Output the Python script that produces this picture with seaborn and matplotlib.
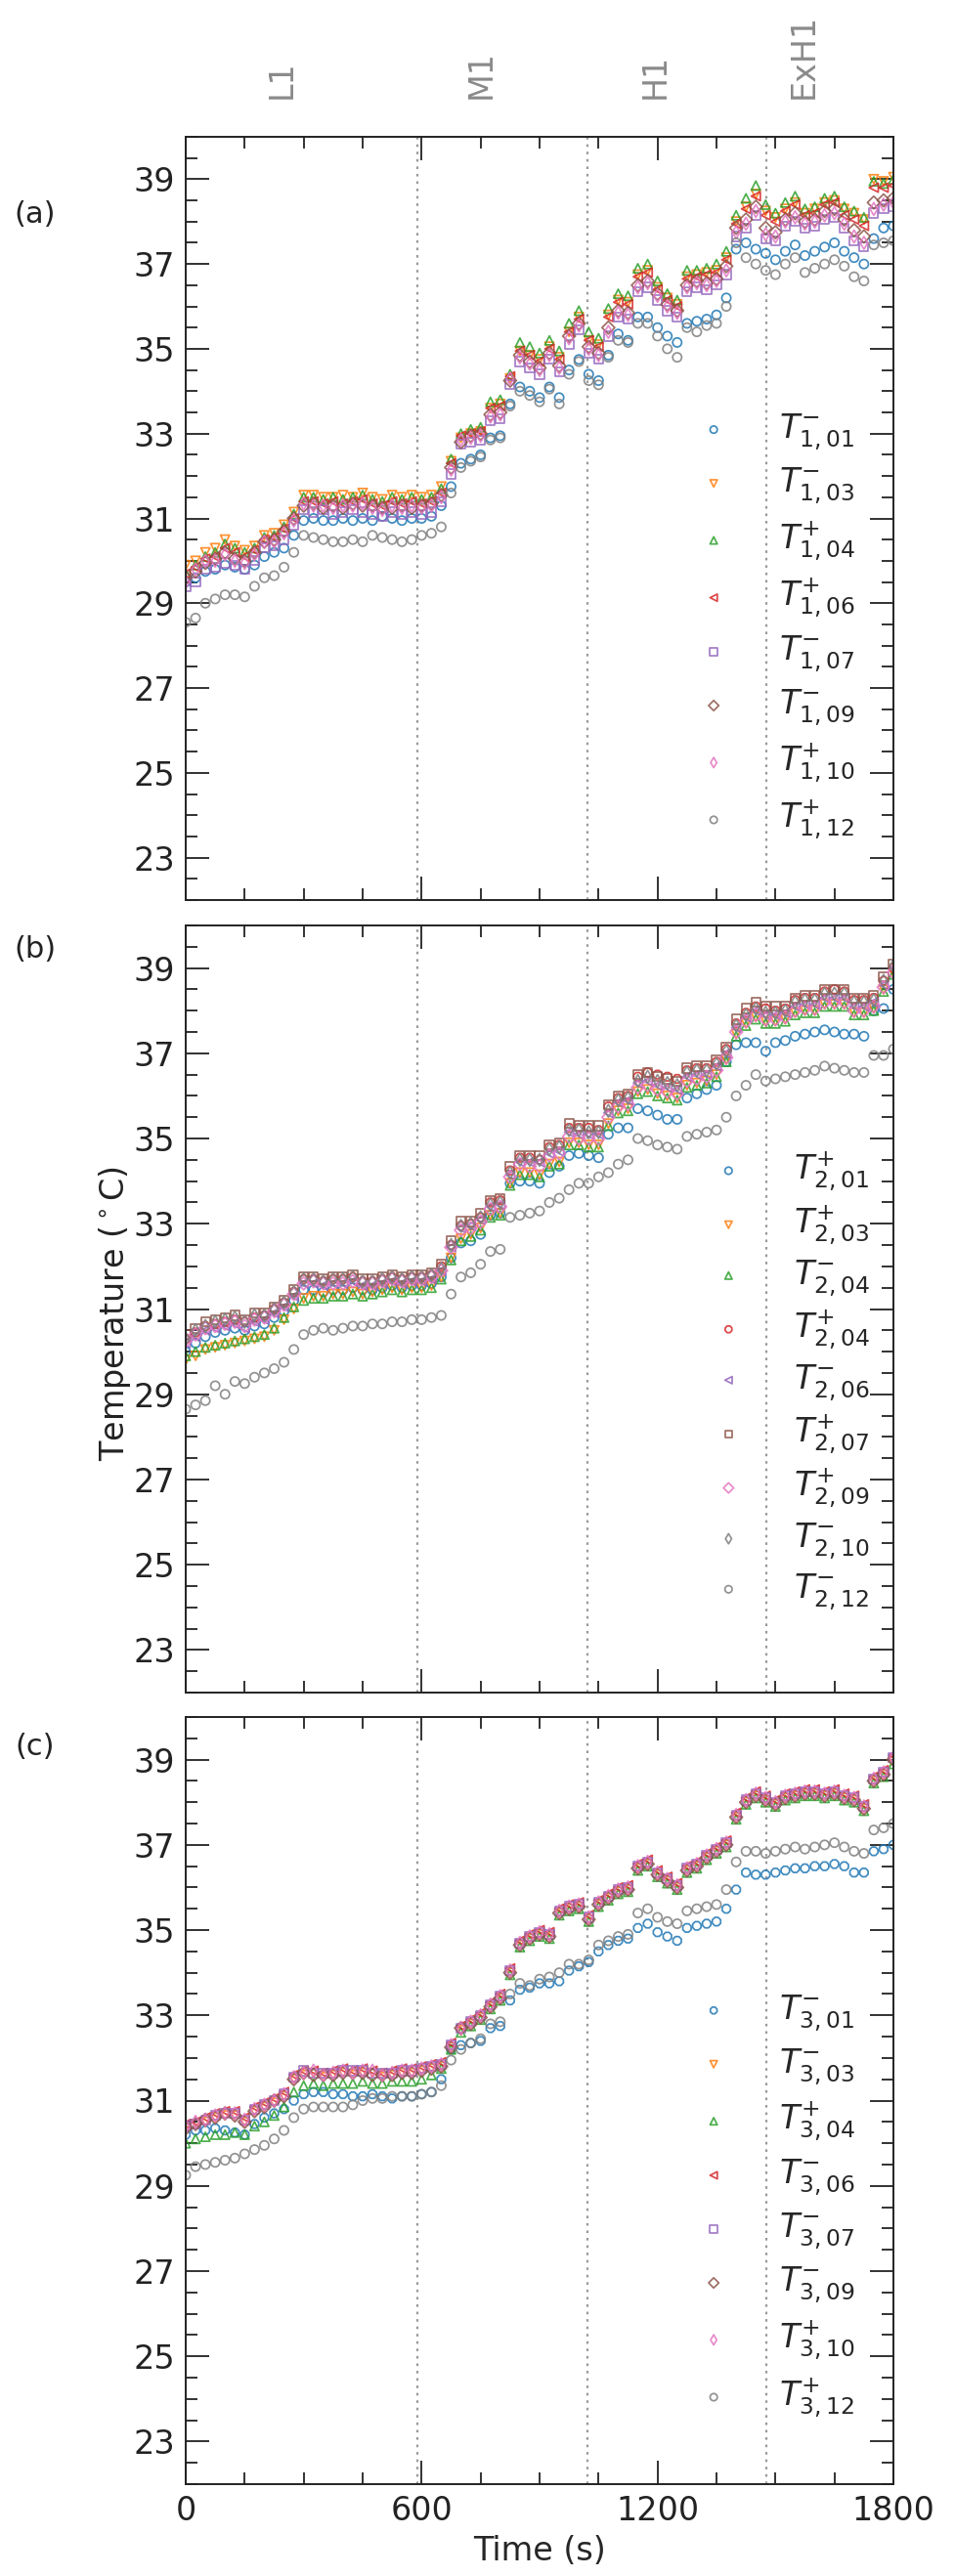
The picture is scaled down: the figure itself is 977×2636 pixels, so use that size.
import numpy as np
import pandas as pd
import matplotlib
matplotlib.use("Agg")
import matplotlib.pyplot as plt
import matplotlib.transforms as mtransforms
from matplotlib.ticker import MultipleLocator
import seaborn as sns

# ---------------- data ----------------
time_s = list(range(0, 1801, 25))

# panel (a)
a_T1_01 = [29.5, 29.6, 29.75, 29.8, 29.9, 29.85, 29.8, 29.9,
           30.1, 30.2, 30.3, 30.6, 30.95, 31.0, 30.95, 30.95,
           31.0, 30.95, 31.0, 30.95, 31.05, 31.0, 30.95, 31.0,
           31.0, 31.05, 31.3, 31.75, 32.3, 32.4, 32.5, 32.9,
           32.95, 33.7, 34.1, 34.0, 33.85, 34.1, 33.85, 34.5,
           34.75, 34.4, 34.25, 34.85, 35.35, 35.2, 35.75, 35.75,
           35.5, 35.3, 35.15, 35.6, 35.65, 35.7, 35.8, 36.2,
           37.35, 37.5, 37.35, 37.25, 37.1, 37.3, 37.45, 37.2,
           37.3, 37.4, 37.5, 37.3, 37.15, 37.0, 37.6, 37.85, 37.9]
a_T1_03 = [29.9, 30.0, 30.2, 30.3, 30.5, 30.35, 30.25, 30.35,
           30.6, 30.65, 30.85, 31.15, 31.55, 31.55, 31.5, 31.5,
           31.55, 31.5, 31.6, 31.5, 31.45, 31.55, 31.5, 31.55,
           31.5, 31.55, 31.75, 32.35, 32.9, 33.0, 33.05, 33.6,
           33.7, 34.3, 34.95, 34.85, 34.75, 35.05, 34.8, 35.4,
           35.75, 35.2, 35.1, 35.8, 36.15, 36.1, 36.75, 36.85,
           36.45, 36.2, 36.05, 36.7, 36.75, 36.8, 36.85, 37.15,
           38.0, 38.35, 38.65, 38.25, 38.1, 38.3, 38.45, 38.2,
           38.3, 38.45, 38.5, 38.3, 38.2, 38.05, 39.0, 38.95, 39.05]
a_T1_04 = [29.7, 29.9, 30.1, 30.2, 30.4, 30.3, 30.2, 30.3,
           30.55, 30.6, 30.8, 31.1, 31.5, 31.5, 31.45, 31.5,
           31.45, 31.5, 31.55, 31.45, 31.4, 31.5, 31.45, 31.5,
           31.45, 31.5, 31.7, 32.4, 33.0, 33.1, 33.15, 33.75,
           33.8, 34.4, 35.15, 35.05, 34.9, 35.2, 34.95, 35.6,
           35.9, 35.4, 35.25, 35.95, 36.3, 36.25, 36.9, 37.0,
           36.6, 36.3, 36.15, 36.85, 36.85, 36.9, 37.0, 37.3,
           38.15, 38.55, 38.85, 38.4, 38.2, 38.45, 38.6, 38.3,
           38.35, 38.55, 38.6, 38.35, 38.25, 38.1, 38.95, 38.9, 39.0]
a_T1_06 = [29.7, 29.85, 30.05, 30.1, 30.3, 30.2, 30.1, 30.25,
           30.5, 30.55, 30.75, 31.0, 31.4, 31.4, 31.35, 31.4,
           31.35, 31.4, 31.45, 31.35, 31.3, 31.4, 31.35, 31.4,
           31.35, 31.4, 31.6, 32.3, 32.95, 33.0, 33.05, 33.6,
           33.65, 34.35, 34.95, 34.85, 34.7, 35.0, 34.75, 35.4,
           35.7, 35.2, 35.05, 35.75, 36.1, 36.05, 36.7, 36.8,
           36.4, 36.15, 36.0, 36.65, 36.7, 36.75, 36.8, 37.1,
           37.95, 38.3, 38.6, 38.15, 38.0, 38.25, 38.4, 38.15,
           38.2, 38.4, 38.45, 38.15, 38.05, 37.9, 38.8, 38.8, 38.85]
a_T1_07 = [29.4, 29.5, 29.8, 29.85, 29.95, 29.9, 29.8, 30.0,
           30.3, 30.35, 30.5, 30.85, 31.2, 31.15, 31.2, 31.1,
           31.15, 31.2, 31.15, 31.1, 31.05, 31.15, 31.1, 31.15,
           31.1, 31.15, 31.4, 32.05, 32.75, 32.8, 32.85, 33.3,
           33.35, 34.15, 34.7, 34.55, 34.4, 34.75, 34.45, 35.1,
           35.45, 34.9, 34.75, 35.3, 35.75, 35.7, 36.35, 36.45,
           36.15, 35.9, 35.75, 36.35, 36.45, 36.4, 36.5, 36.75,
           37.65, 37.85, 38.15, 37.6, 37.55, 37.9, 38.0, 37.85,
           37.9, 38.05, 38.1, 37.85, 37.55, 37.4, 38.2, 38.3, 38.35]
a_T1_09 = [29.6, 29.75, 29.95, 30.05, 30.2, 30.05, 30.0, 30.2,
           30.45, 30.5, 30.7, 31.0, 31.3, 31.35, 31.25, 31.3,
           31.25, 31.35, 31.3, 31.3, 31.25, 31.25, 31.3, 31.25,
           31.3, 31.35, 31.55, 32.2, 32.8, 32.95, 33.0, 33.45,
           33.5, 34.25, 34.85, 34.7, 34.55, 34.9, 34.6, 35.3,
           35.6, 35.05, 34.9, 35.5, 35.9, 35.85, 36.5, 36.6,
           36.3, 36.05, 35.9, 36.5, 36.6, 36.55, 36.65, 36.95,
           37.85, 38.05, 38.35, 37.85, 37.75, 38.05, 38.2, 38.0,
           38.05, 38.25, 38.3, 38.05, 37.8, 37.65, 38.45, 38.5, 38.55]
a_T1_10 = [29.5, 29.8, 30.0, 30.0, 30.15, 30.0, 29.95, 30.15,
           30.45, 30.45, 30.65, 30.95, 31.35, 31.3, 31.3, 31.25,
           31.3, 31.3, 31.35, 31.25, 31.2, 31.3, 31.25, 31.3,
           31.25, 31.3, 31.5, 32.15, 32.85, 32.9, 32.95, 33.4,
           33.45, 34.3, 34.8, 34.65, 34.5, 34.85, 34.55, 35.25,
           35.55, 35.0, 34.85, 35.4, 35.85, 35.8, 36.45, 36.55,
           36.25, 36.0, 35.85, 36.45, 36.55, 36.5, 36.6, 36.85,
           37.75, 37.95, 38.25, 37.7, 37.65, 38.0, 38.1, 37.95,
           38.0, 38.15, 38.2, 37.95, 37.65, 37.5, 38.3, 38.4, 38.45]
a_T1_12 = [28.55, 28.65, 29.0, 29.1, 29.2, 29.2, 29.15, 29.4,
           29.6, 29.65, 29.85, 30.2, 30.6, 30.55, 30.5, 30.45,
           30.45, 30.5, 30.45, 30.6, 30.55, 30.5, 30.45, 30.5,
           30.6, 30.65, 30.8, 31.6, 32.2, 32.35, 32.45, 32.85,
           32.9, 33.65, 34.0, 33.9, 33.75, 34.05, 33.7, 34.4,
           34.7, 34.25, 34.15, 34.8, 35.2, 35.15, 35.6, 35.6,
           35.3, 35.0, 34.8, 35.5, 35.4, 35.55, 35.6, 36.0,
           37.5, 37.15, 37.0, 36.85, 36.75, 37.0, 37.15, 36.8,
           36.9, 37.0, 37.1, 36.95, 36.7, 36.6, 37.45, 37.5, 37.55]

# panel (b)
b_T2_01p = [30.0, 30.2, 30.35, 30.45, 30.5, 30.55, 30.5, 30.6,
            30.65, 30.8, 30.95, 31.2, 31.45, 31.45, 31.4, 31.45,
            31.45, 31.5, 31.45, 31.45, 31.5, 31.55, 31.5, 31.55,
            31.55, 31.6, 31.75, 32.2, 32.55, 32.6, 32.75, 33.2,
            33.25, 33.95, 34.0, 34.0, 33.95, 34.2, 34.35, 34.6,
            34.65, 34.6, 34.55, 35.1, 35.25, 35.25, 35.7, 35.65,
            35.55, 35.45, 35.45, 35.95, 36.05, 36.15, 36.25, 36.8,
            37.2, 37.25, 37.25, 37.05, 37.25, 37.3, 37.4, 37.45,
            37.5, 37.55, 37.5, 37.45, 37.45, 37.4, 38.0, 38.05, 38.5]
b_T2_03p = [29.8, 29.9, 30.05, 30.1, 30.15, 30.2, 30.25, 30.3,
            30.35, 30.5, 30.75, 31.0, 31.25, 31.3, 31.3, 31.35,
            31.35, 31.4, 31.35, 31.4, 31.45, 31.5, 31.45, 31.5,
            31.5, 31.55, 31.75, 32.2, 32.65, 32.75, 32.9, 33.2,
            33.25, 33.95, 34.2, 34.2, 34.15, 34.4, 34.45, 34.9,
            34.9, 34.85, 34.85, 35.35, 35.65, 35.7, 36.1, 36.15,
            36.05, 36.0, 35.95, 36.25, 36.3, 36.35, 36.5, 36.85,
            37.45, 37.7, 37.85, 37.75, 37.75, 37.8, 37.95, 38.0,
            38.0, 38.15, 38.15, 38.15, 37.95, 37.95, 38.05, 38.5, 38.9]
b_T2_04m = [29.9, 30.0, 30.1, 30.15, 30.2, 30.25, 30.3, 30.35,
            30.4, 30.55, 30.8, 31.05, 31.2, 31.25, 31.25, 31.3,
            31.3, 31.35, 31.3, 31.35, 31.4, 31.45, 31.4, 31.45,
            31.45, 31.5, 31.7, 32.15, 32.6, 32.7, 32.85, 33.15,
            33.2, 33.9, 34.15, 34.15, 34.1, 34.35, 34.4, 34.85,
            34.85, 34.8, 34.8, 35.3, 35.6, 35.65, 36.05, 36.1,
            36.0, 35.95, 35.9, 36.2, 36.25, 36.3, 36.45, 36.8,
            37.4, 37.65, 37.8, 37.7, 37.7, 37.75, 37.9, 37.95,
            37.95, 38.1, 38.1, 38.1, 37.9, 37.9, 38.0, 38.45, 38.85]
b_T2_04p = [30.3, 30.45, 30.6, 30.65, 30.7, 30.75, 30.7, 30.8,
            30.85, 31.0, 31.15, 31.4, 31.7, 31.7, 31.65, 31.7,
            31.7, 31.75, 31.65, 31.65, 31.7, 31.75, 31.7, 31.75,
            31.75, 31.8, 32.0, 32.5, 32.95, 33.0, 33.15, 33.5,
            33.55, 34.25, 34.55, 34.55, 34.5, 34.8, 34.85, 35.25,
            35.25, 35.25, 35.2, 35.75, 35.95, 36.0, 36.45, 36.55,
            36.5, 36.45, 36.4, 36.6, 36.65, 36.65, 36.8, 37.1,
            37.7, 37.95, 38.1, 38.05, 38.0, 38.05, 38.25, 38.3,
            38.3, 38.45, 38.5, 38.45, 38.25, 38.25, 38.3, 38.7, 39.0]
b_T2_06m = [30.2, 30.35, 30.5, 30.55, 30.6, 30.65, 30.55, 30.7,
            30.75, 30.9, 31.05, 31.3, 31.6, 31.6, 31.55, 31.6,
            31.6, 31.65, 31.55, 31.55, 31.6, 31.65, 31.6, 31.65,
            31.65, 31.7, 31.9, 32.45, 32.9, 32.95, 33.1, 33.4,
            33.45, 34.15, 34.45, 34.45, 34.45, 34.65, 34.7, 35.15,
            35.1, 35.1, 35.1, 35.6, 35.85, 35.9, 36.3, 36.35,
            36.25, 36.2, 36.15, 36.45, 36.5, 36.5, 36.7, 37.0,
            37.6, 37.85, 38.0, 37.9, 37.9, 37.95, 38.1, 38.15,
            38.15, 38.3, 38.3, 38.3, 38.1, 38.1, 38.2, 38.6, 39.0]
b_T2_07p = [30.4, 30.55, 30.7, 30.75, 30.8, 30.85, 30.75, 30.9,
            30.9, 31.05, 31.2, 31.45, 31.75, 31.75, 31.7, 31.75,
            31.75, 31.8, 31.7, 31.7, 31.75, 31.8, 31.75, 31.8,
            31.8, 31.85, 32.05, 32.6, 33.05, 33.05, 33.25, 33.55,
            33.6, 34.35, 34.6, 34.6, 34.6, 34.85, 34.9, 35.35,
            35.3, 35.3, 35.3, 35.8, 36.0, 36.05, 36.5, 36.55,
            36.45, 36.4, 36.35, 36.65, 36.7, 36.7, 36.85, 37.15,
            37.8, 38.05, 38.2, 38.1, 38.1, 38.1, 38.3, 38.35,
            38.35, 38.5, 38.5, 38.5, 38.3, 38.3, 38.35, 38.8, 39.1]
b_T2_09p = [30.25, 30.4, 30.55, 30.6, 30.65, 30.7, 30.6, 30.75,
            30.8, 30.95, 31.1, 31.35, 31.6, 31.65, 31.6, 31.6,
            31.6, 31.65, 31.6, 31.6, 31.65, 31.7, 31.65, 31.7,
            31.7, 31.75, 31.9, 32.45, 32.85, 32.9, 33.05, 33.35,
            33.4, 34.1, 34.4, 34.35, 34.35, 34.6, 34.65, 35.05,
            35.0, 35.0, 35.0, 35.5, 35.75, 35.8, 36.2, 36.25,
            36.15, 36.1, 36.05, 36.35, 36.4, 36.45, 36.6, 36.9,
            37.5, 37.75, 37.9, 37.8, 37.8, 37.85, 38.0, 38.05,
            38.05, 38.2, 38.2, 38.2, 38.0, 38.0, 38.1, 38.55, 38.9]
b_T2_10m = [30.3, 30.5, 30.6, 30.7, 30.75, 30.8, 30.7, 30.85,
            30.85, 31.0, 31.15, 31.4, 31.7, 31.7, 31.65, 31.7,
            31.7, 31.75, 31.65, 31.65, 31.7, 31.75, 31.7, 31.75,
            31.75, 31.8, 31.95, 32.5, 32.95, 33.0, 33.15, 33.45,
            33.5, 34.2, 34.5, 34.5, 34.5, 34.75, 34.8, 35.2,
            35.2, 35.15, 35.15, 35.65, 35.9, 35.95, 36.35, 36.45,
            36.35, 36.3, 36.25, 36.55, 36.6, 36.6, 36.75, 37.05,
            37.65, 37.9, 38.05, 37.95, 37.95, 38.0, 38.2, 38.25,
            38.25, 38.4, 38.4, 38.4, 38.2, 38.2, 38.25, 38.7, 39.05]
b_T2_12m = [28.65, 28.75, 28.85, 29.2, 29.0, 29.3, 29.25, 29.4,
            29.5, 29.6, 29.75, 30.05, 30.4, 30.5, 30.55, 30.5,
            30.55, 30.6, 30.6, 30.65, 30.65, 30.7, 30.7, 30.75,
            30.75, 30.8, 30.85, 31.35, 31.75, 31.85, 32.05, 32.35,
            32.4, 33.15, 33.2, 33.25, 33.3, 33.5, 33.6, 33.8,
            33.95, 33.95, 34.1, 34.2, 34.4, 34.5, 35.0, 34.95,
            34.85, 34.8, 34.75, 35.05, 35.1, 35.15, 35.2, 35.5,
            36.0, 36.25, 36.5, 36.35, 36.4, 36.45, 36.5, 36.55,
            36.6, 36.7, 36.65, 36.6, 36.55, 36.55, 36.95, 36.95, 37.1]

# panel (c)
c_T3_01 = [30.2, 30.3, 30.3, 30.35, 30.3, 30.25, 30.2, 30.45,
           30.6, 30.7, 30.8, 31.0, 31.15, 31.2, 31.2, 31.15,
           31.15, 31.1, 31.1, 31.15, 31.1, 31.05, 31.1, 31.1,
           31.15, 31.2, 31.5, 32.2, 32.3, 32.35, 32.4, 32.7,
           32.75, 33.35, 33.6, 33.65, 33.75, 33.75, 33.8, 34.05,
           34.15, 34.25, 34.5, 34.65, 34.75, 34.8, 35.05, 35.15,
           34.95, 34.85, 34.75, 35.05, 35.1, 35.15, 35.2, 35.5,
           35.95, 36.35, 36.3, 36.3, 36.35, 36.4, 36.45, 36.45,
           36.5, 36.5, 36.55, 36.5, 36.35, 36.35, 36.85, 36.9, 37.0]
c_T3_03 = [30.35, 30.45, 30.5, 30.6, 30.65, 30.65, 30.5, 30.75,
           30.85, 30.95, 31.1, 31.5, 31.6, 31.65, 31.55, 31.6,
           31.65, 31.6, 31.65, 31.65, 31.55, 31.6, 31.65, 31.65,
           31.7, 31.75, 31.8, 32.25, 32.65, 32.8, 32.95, 33.2,
           33.4, 34.0, 34.65, 34.8, 34.9, 34.85, 35.4, 35.5,
           35.55, 35.25, 35.6, 35.75, 35.9, 35.95, 36.45, 36.55,
           36.3, 36.15, 36.0, 36.4, 36.5, 36.7, 36.85, 37.0,
           37.65, 38.0, 38.15, 38.05, 37.95, 38.1, 38.15, 38.2,
           38.2, 38.15, 38.2, 38.1, 38.05, 37.85, 38.5, 38.65, 38.95]
c_T3_04 = [30.0, 30.1, 30.15, 30.2, 30.2, 30.25, 30.2, 30.4,
           30.5, 30.65, 30.85, 31.2, 31.35, 31.4, 31.35, 31.4,
           31.4, 31.4, 31.45, 31.4, 31.4, 31.45, 31.45, 31.45,
           31.5, 31.6, 31.75, 32.2, 32.6, 32.75, 32.9, 33.15,
           33.35, 33.95, 34.6, 34.75, 34.85, 34.8, 35.35, 35.45,
           35.5, 35.2, 35.55, 35.7, 35.85, 35.9, 36.4, 36.5,
           36.25, 36.1, 35.95, 36.35, 36.45, 36.65, 36.8, 36.95,
           37.6, 37.95, 38.1, 38.0, 37.9, 38.05, 38.1, 38.15,
           38.15, 38.1, 38.15, 38.05, 38.0, 37.8, 38.45, 38.6, 38.9]
c_T3_06 = [30.45, 30.5, 30.6, 30.7, 30.75, 30.75, 30.6, 30.85,
           30.95, 31.05, 31.2, 31.6, 31.7, 31.7, 31.65, 31.7,
           31.75, 31.7, 31.75, 31.7, 31.65, 31.7, 31.75, 31.75,
           31.8, 31.85, 31.9, 32.35, 32.75, 32.9, 33.05, 33.3,
           33.5, 34.1, 34.75, 34.9, 35.0, 34.95, 35.5, 35.6,
           35.65, 35.35, 35.7, 35.85, 36.0, 36.05, 36.55, 36.65,
           36.4, 36.25, 36.1, 36.5, 36.6, 36.8, 36.95, 37.1,
           37.75, 38.1, 38.25, 38.15, 38.05, 38.2, 38.25, 38.3,
           38.3, 38.25, 38.3, 38.2, 38.15, 37.95, 38.6, 38.75, 39.1]
c_T3_07 = [30.4, 30.45, 30.55, 30.65, 30.7, 30.7, 30.55, 30.8,
           30.9, 31.0, 31.15, 31.55, 31.7, 31.65, 31.65, 31.65,
           31.7, 31.7, 31.7, 31.65, 31.65, 31.65, 31.7, 31.7,
           31.75, 31.8, 31.85, 32.3, 32.7, 32.85, 33.0, 33.25,
           33.45, 34.05, 34.7, 34.85, 34.95, 34.9, 35.45, 35.55,
           35.6, 35.3, 35.65, 35.8, 35.95, 36.0, 36.5, 36.6,
           36.35, 36.2, 36.05, 36.45, 36.55, 36.75, 36.9, 37.05,
           37.7, 38.05, 38.2, 38.1, 38.0, 38.15, 38.2, 38.25,
           38.25, 38.2, 38.25, 38.15, 38.1, 37.9, 38.55, 38.7, 39.05]
c_T3_09 = [30.35, 30.45, 30.55, 30.6, 30.7, 30.65, 30.5, 30.75,
           30.85, 31.0, 31.1, 31.5, 31.65, 31.6, 31.6, 31.6,
           31.65, 31.65, 31.65, 31.6, 31.6, 31.6, 31.65, 31.65,
           31.7, 31.75, 31.8, 32.25, 32.7, 32.8, 32.95, 33.2,
           33.4, 34.0, 34.65, 34.8, 34.9, 34.85, 35.4, 35.5,
           35.55, 35.25, 35.6, 35.75, 35.9, 35.95, 36.45, 36.55,
           36.3, 36.15, 36.0, 36.4, 36.5, 36.7, 36.85, 37.0,
           37.65, 38.0, 38.15, 38.05, 37.95, 38.1, 38.15, 38.2,
           38.2, 38.15, 38.2, 38.1, 38.05, 37.85, 38.5, 38.65, 39.0]
c_T3_10 = [30.4, 30.5, 30.55, 30.65, 30.7, 30.7, 30.55, 30.8,
           30.9, 31.0, 31.15, 31.55, 31.65, 31.7, 31.6, 31.65,
           31.7, 31.65, 31.7, 31.7, 31.6, 31.65, 31.7, 31.7,
           31.75, 31.8, 31.85, 32.3, 32.7, 32.85, 33.0, 33.25,
           33.45, 34.05, 34.7, 34.85, 34.95, 34.9, 35.45, 35.55,
           35.6, 35.3, 35.65, 35.8, 35.95, 36.0, 36.5, 36.6,
           36.35, 36.2, 36.05, 36.45, 36.55, 36.75, 36.9, 37.05,
           37.7, 38.05, 38.2, 38.1, 38.0, 38.15, 38.2, 38.25,
           38.25, 38.2, 38.25, 38.15, 38.1, 37.9, 38.55, 38.7, 39.05]
c_T3_12 = [29.25, 29.45, 29.5, 29.55, 29.6, 29.65, 29.75, 29.85,
           29.95, 30.1, 30.3, 30.6, 30.8, 30.85, 30.85, 30.85,
           30.85, 30.9, 31.0, 31.05, 31.05, 31.1, 31.1, 31.1,
           31.15, 31.2, 31.35, 31.95, 32.2, 32.35, 32.45, 32.8,
           32.85, 33.5, 33.75, 33.7, 33.85, 33.9, 34.0, 34.2,
           34.2, 34.3, 34.65, 34.75, 34.85, 34.9, 35.4, 35.5,
           35.3, 35.2, 35.15, 35.45, 35.5, 35.55, 35.6, 35.95,
           36.6, 36.85, 36.85, 36.8, 36.85, 36.9, 36.95, 36.9,
           36.95, 37.0, 37.05, 36.95, 36.85, 36.8, 37.35, 37.4, 37.5]

# legend labels
labels_a = [r"$T^{-}_{1,01}$", r"$T^{-}_{1,03}$", r"$T^{+}_{1,04}$", r"$T^{+}_{1,06}$",
            r"$T^{-}_{1,07}$", r"$T^{-}_{1,09}$", r"$T^{+}_{1,10}$", r"$T^{+}_{1,12}$"]
labels_b = [r"$T^{+}_{2,01}$", r"$T^{+}_{2,03}$", r"$T^{-}_{2,04}$", r"$T^{+}_{2,04}$",
            r"$T^{-}_{2,06}$", r"$T^{+}_{2,07}$", r"$T^{+}_{2,09}$", r"$T^{-}_{2,10}$",
            r"$T^{-}_{2,12}$"]
labels_c = [r"$T^{-}_{3,01}$", r"$T^{-}_{3,03}$", r"$T^{+}_{3,04}$", r"$T^{-}_{3,06}$",
            r"$T^{-}_{3,07}$", r"$T^{-}_{3,09}$", r"$T^{+}_{3,10}$", r"$T^{+}_{3,12}$"]

series_a = [a_T1_01, a_T1_03, a_T1_04, a_T1_06, a_T1_07, a_T1_09, a_T1_10, a_T1_12]
series_b = [b_T2_01p, b_T2_03p, b_T2_04m, b_T2_04p, b_T2_06m, b_T2_07p, b_T2_09p,
            b_T2_10m, b_T2_12m]
series_c = [c_T3_01, c_T3_03, c_T3_04, c_T3_06, c_T3_07, c_T3_09, c_T3_10, c_T3_12]

markers_a = ["o", "v", "^", "<", "s", "D", "d", "o"]
markers_b = ["o", "v", "^", "8", "<", "s", "D", "d", "o"]
markers_c = ["8", "v", "^", "<", "s", "D", "d", "o"]

tab = sns.color_palette("tab10")
colors_a = [tab[0], tab[1], tab[2], tab[3], tab[4], tab[5], tab[6], tab[7]]
colors_b = [tab[0], tab[1], tab[2], tab[3], tab[4], tab[5], tab[6], tab[7], tab[7]]
colors_c = [tab[0], tab[1], tab[2], tab[3], tab[4], tab[5], tab[6], tab[7]]

phase_lines = [590, 1022, 1476]
phase_names = ["L1", "M1", "H1", "ExH1"]
phase_label_x = [244, 751, 1193, 1572]

panel_names = ["(a)", "(b)", "(c)"]

# ---------------- style ----------------
sns.set_theme(style="ticks")
plt.rcParams["font.family"] = ["DejaVu Sans"]
plt.rcParams["mathtext.fontset"] = "dejavusans"
FS = 24

W, H = 977, 2636
fig = plt.figure(figsize=(W / 100, H / 100), dpi=100)

def box(top, bottom):
    return [190 / W, 1 - bottom / H, 724 / W, (bottom - top) / H]

axes = [fig.add_axes(box(140, 921)), fig.add_axes(box(947, 1732)),
        fig.add_axes(box(1757, 2542))]

all_series = [series_a, series_b, series_c]
all_labels = [labels_a, labels_b, labels_c]
all_markers = [markers_a, markers_b, markers_c]
all_colors = [colors_a, colors_b, colors_c]
legend_anchor = [(0.700, 0.640), (0.721, 0.708), (0.700, 0.641)]
legend_spacing = [0.40, 0.30, 0.40]
panel_label_y = [220, 972, 1788]

for k, ax in enumerate(axes):
    for vals, lab, mk, col in zip(all_series[k], all_labels[k], all_markers[k], all_colors[k]):
        df = pd.DataFrame({"t": time_s, "T": vals})
        sns.scatterplot(data=df, x="t", y="T", ax=ax, marker=mk, s=44,
                        facecolor="none", edgecolor=col, linewidth=1.25,
                        alpha=0.85, label=lab, legend=False)
    for xl in phase_lines:
        ax.axvline(xl, color="#9a9a9a", linestyle=(0, (1.2, 2.2)), linewidth=1.6, zorder=0)
    ax.set_xlim(0, 1800)
    ax.set_ylim(22, 40)
    ax.xaxis.set_major_locator(MultipleLocator(600))
    ax.xaxis.set_minor_locator(MultipleLocator(150))
    ax.set_yticks([23, 25, 27, 29, 31, 33, 35, 37, 39])
    ax.yaxis.set_minor_locator(MultipleLocator(0.5))
    ax.tick_params(which="both", direction="in", top=True, right=True,
                   labelsize=FS, width=1.3, colors="#222222")
    ax.tick_params(which="major", length=17, pad=8)
    ax.tick_params(which="minor", length=8.5)
    for sp in ax.spines.values():
        sp.set_linewidth(1.4)
        sp.set_color("#222222")
    ax.set_xlabel("")
    ax.set_ylabel("")
    if k < 2:
        ax.set_xticklabels([])
    handles, labs = ax.get_legend_handles_labels()
    ax.legend(handles, labs, loc="upper left", bbox_to_anchor=legend_anchor[k],
              frameon=False, fontsize=FS, borderaxespad=0, borderpad=0,
              handletextpad=1.0, labelspacing=legend_spacing[k],
              handlelength=2.0, markerscale=0.8)
    fig.text(36 / W, 1 - panel_label_y[k] / H, panel_names[k], fontsize=FS - 2,
             ha="center", va="center", color="#222222")

axes[2].set_xlabel("Time (s)", fontsize=FS, labelpad=6)

trans = mtransforms.blended_transform_factory(axes[0].transData, axes[0].transAxes)
for xl, name in zip(phase_label_x, phase_names):
    axes[0].text(xl, 1.05, name, transform=trans, rotation=90, ha="center",
                 va="bottom", fontsize=FS, color="#8a8a8a")

fig.text(118 / W, 0.49, "Temperature ($^\\circ$C)", rotation=90, ha="center",
         va="center", fontsize=FS, color="#222222")

fig.savefig("out.png", dpi=100, facecolor="white")
